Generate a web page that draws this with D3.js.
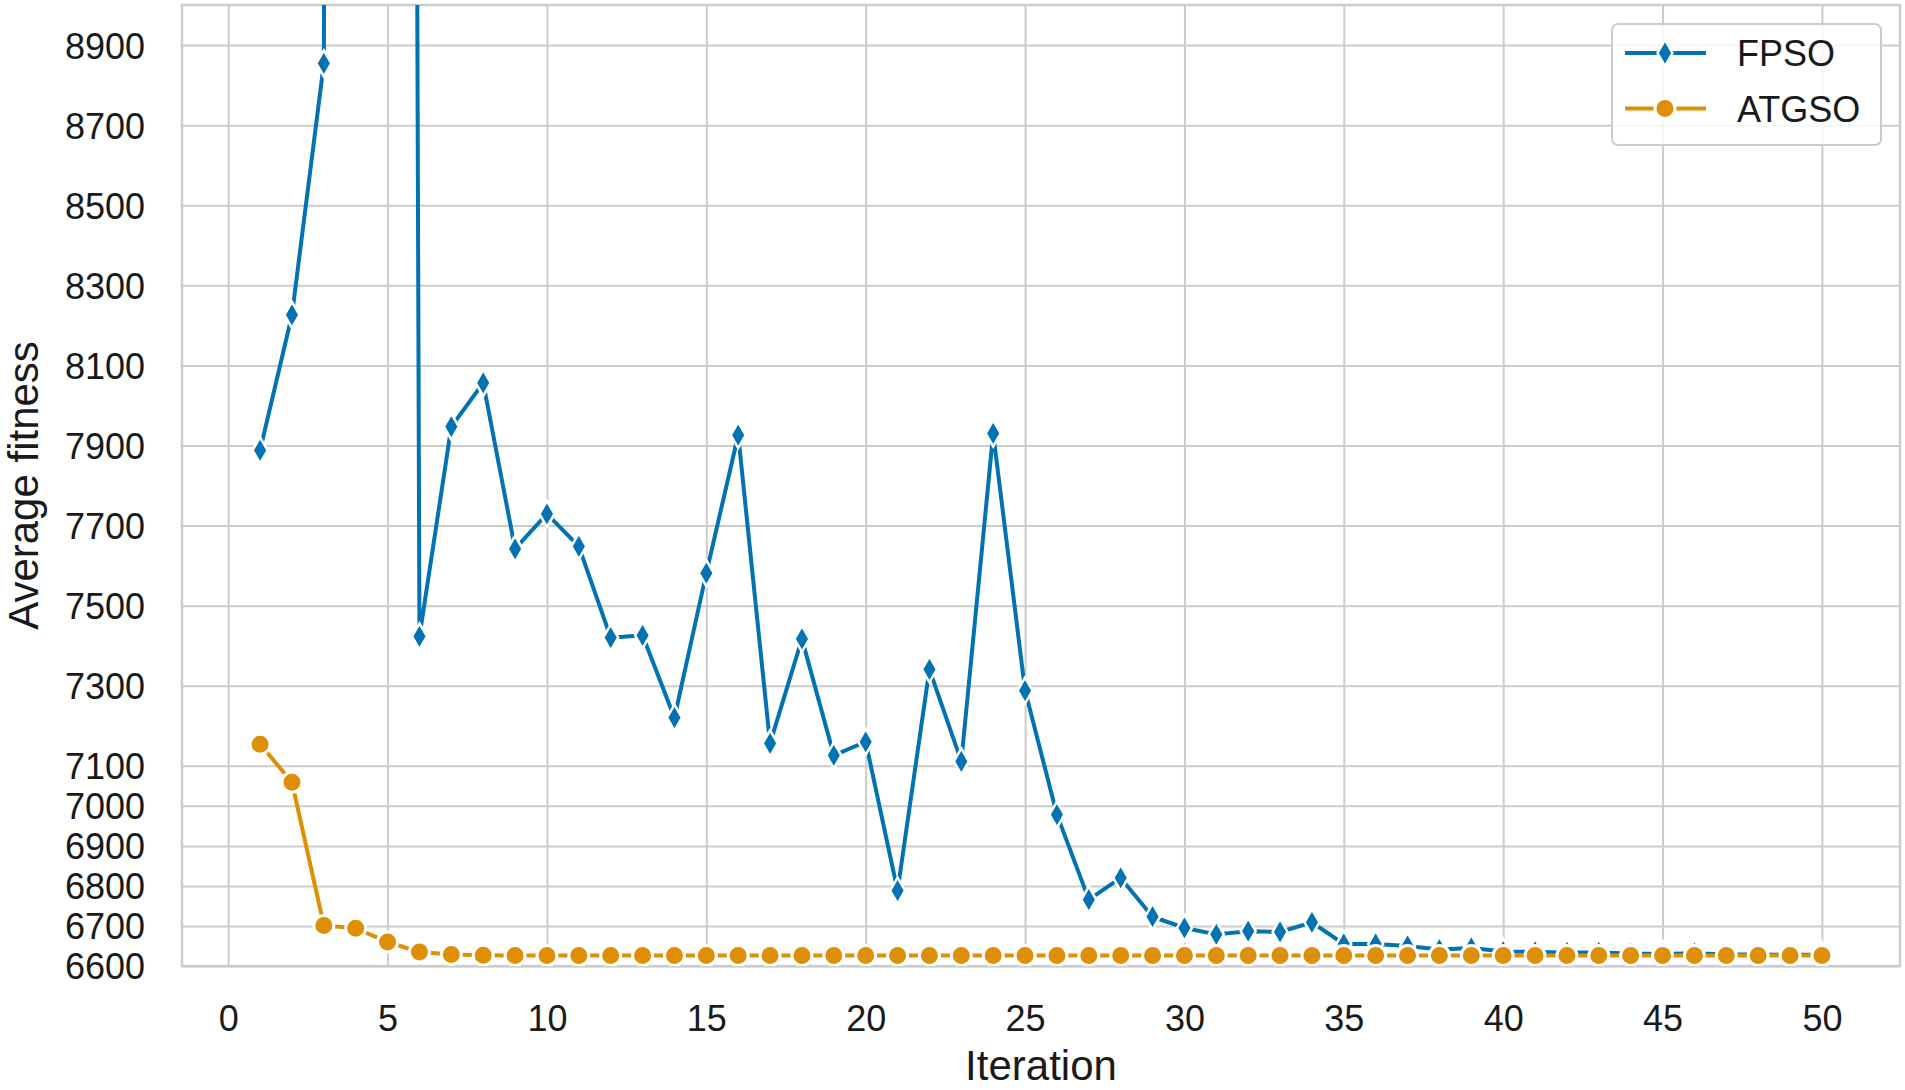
<!DOCTYPE html>
<html>
<head>
  <title>Average fitness</title>
  <script src="https://d3js.org/d3.v7.min.js"></script>
  <style>
    body { margin: 0; background: #fff; }
    text { font-family: "Liberation Sans", Arial, sans-serif; fill: #1a1a1a; }
    .grid line { stroke: #cccccc; stroke-width: 2; }
    .grid .domain { stroke: none; }
  </style>
</head>
<body>
  <svg id="chart" width="1905" height="1090"></svg>
  <script>
    // iteration numbers
    const iterations = [1, 2, 3, 4, 5, 6, 7, 8, 9, 10, 11, 12, 13, 14, 15, 16, 17, 18, 19, 20,
      21, 22, 23, 24, 25, 26, 27, 28, 29, 30, 31, 32, 33, 34, 35, 36, 37, 38, 39, 40,
      41, 42, 43, 44, 45, 46, 47, 48, 49, 50];

    // average fitness per iteration (4 and 5 are far above the visible range)
    const fpso = [7888, 8226, 8854, 32000, 30500, 7423, 7947, 8056, 7642, 7729,
      7648, 7420, 7426, 7220, 7581, 7926, 7156, 7417, 7126, 7160,
      6788, 7341, 7111, 7930, 7288, 6978, 6766, 6820, 6723, 6695,
      6679, 6687, 6685, 6709, 6655, 6655, 6650, 6641, 6645, 6636,
      6635, 6634, 6634, 6631, 6630, 6632, 6629, 6629, 6628, 6628];

    const atgso = [7154, 7059, 6701, 6694, 6660, 6635, 6629, 6627, 6626, 6626,
      6626, 6626, 6626, 6626, 6626, 6626, 6626, 6626, 6626, 6626,
      6626, 6626, 6626, 6626, 6626, 6626, 6626, 6626, 6626, 6626,
      6626, 6626, 6626, 6626, 6626, 6626, 6626, 6626, 6626, 6626,
      6626, 6626, 6626, 6626, 6626, 6626, 6626, 6626, 6626, 6626];

    const seriesNames = ["FPSO", "ATGSO"];
    const seriesColors = ["#0173b2", "#de8f05"];

    const xTicks = [0, 5, 10, 15, 20, 25, 30, 35, 40, 45, 50];
    const yTicks = [6600, 6700, 6800, 6900, 7000, 7100, 7300, 7500, 7700, 7900, 8100, 8300, 8500, 8700, 8900];

    const svg = d3.select("#chart");
    const margin = {top: 5, right: 5, bottom: 124, left: 182};
    const width = 1905 - margin.left - margin.right;
    const height = 1090 - margin.top - margin.bottom;

    const x = d3.scaleLinear().domain([-1.45, 52.45]).range([0, width]);
    const y = d3.scaleLinear().domain([6600, 9000]).range([height, 0]);

    const g = svg.append("g").attr("transform", `translate(${margin.left},${margin.top})`);

    g.append("defs").append("clipPath").attr("id", "plotclip")
      .append("rect").attr("width", width).attr("height", height);

    // gridlines
    g.append("g").attr("class", "grid")
      .attr("transform", `translate(0,${height})`)
      .call(d3.axisBottom(x).tickValues(xTicks).tickSize(-height).tickFormat(""));
    g.append("g").attr("class", "grid")
      .call(d3.axisLeft(y).tickValues(yTicks).tickSize(-width).tickFormat(""));

    // tick labels
    const xAxis = g.append("g").attr("transform", `translate(0,${height})`)
      .call(d3.axisBottom(x).tickValues(xTicks).tickSize(0).tickPadding(0).tickFormat(d3.format("d")));
    xAxis.select(".domain").remove();
    xAxis.selectAll("text").attr("dy", null).attr("y", 65)
      .style("font-size", "36px").style("font-family", "Liberation Sans, Arial, sans-serif")
      .attr("fill", "#1a1a1a");

    const yAxis = g.append("g")
      .call(d3.axisLeft(y).tickValues(yTicks).tickSize(0).tickPadding(0).tickFormat(d3.format("d")));
    yAxis.select(".domain").remove();
    yAxis.selectAll("text").attr("x", -37).attr("dy", "0.36em")
      .style("font-size", "36px").style("font-family", "Liberation Sans, Arial, sans-serif")
      .attr("fill", "#1a1a1a");

    // frame
    g.append("rect").attr("width", width).attr("height", height)
      .attr("fill", "none").attr("stroke", "#cccccc").attr("stroke-width", 2.5);

    // axis titles
    svg.append("text")
      .attr("x", margin.left + width / 2).attr("y", 1080)
      .attr("text-anchor", "middle").style("font-size", "42px")
      .text("Iteration");
    svg.append("text")
      .attr("transform", `translate(38,${margin.top + height / 2}) rotate(-90)`)
      .attr("text-anchor", "middle").style("font-size", "42px")
      .text("Average fitness");

    const diamond = "M0,-13L7.5,0L0,13L-7.5,0Z";
    const line = d3.line().x((d, i) => x(iterations[i])).y(d => y(d));

    const plot = g.append("g").attr("clip-path", "url(#plotclip)");
    [fpso, atgso].forEach((vals, k) => {
      plot.append("path").datum(vals)
        .attr("d", line)
        .attr("fill", "none")
        .attr("stroke", seriesColors[k])
        .attr("stroke-width", 4)
        .attr("stroke-linejoin", "round");

      const pts = plot.selectAll(".m" + k).data(vals).enter();
      if (k === 0) {
        pts.append("path").attr("class", "m0")
          .attr("d", diamond)
          .attr("transform", (d, i) => `translate(${x(iterations[i])},${y(d)})`)
          .attr("fill", seriesColors[k]).attr("stroke", "#fff").attr("stroke-width", 2.5);
      } else {
        pts.append("circle").attr("class", "m1")
          .attr("cx", (d, i) => x(iterations[i])).attr("cy", d => y(d))
          .attr("r", 10)
          .attr("fill", seriesColors[k]).attr("stroke", "#fff").attr("stroke-width", 3);
      }
    });

    // legend
    const legend = svg.append("g").attr("transform", "translate(1612,24)");
    legend.append("rect").attr("width", 269).attr("height", 121).attr("rx", 6)
      .attr("fill", "#fff").attr("fill-opacity", 0.8)
      .attr("stroke", "#cccccc").attr("stroke-width", 2);
    seriesNames.forEach((name, k) => {
      const ly = 29 + k * 55.5;
      legend.append("line").attr("x1", 13).attr("x2", 94).attr("y1", ly).attr("y2", ly)
        .attr("stroke", seriesColors[k]).attr("stroke-width", 4);
      if (k === 0) {
        legend.append("path").attr("d", diamond).attr("transform", `translate(53,${ly})`)
          .attr("fill", seriesColors[k]).attr("stroke", "#fff").attr("stroke-width", 2.5);
      } else {
        legend.append("circle").attr("cx", 53).attr("cy", ly).attr("r", 10)
          .attr("fill", seriesColors[k]).attr("stroke", "#fff").attr("stroke-width", 3);
      }
      legend.append("text").attr("x", 125).attr("y", ly + 13)
        .style("font-size", "36px").text(name);
    });
  </script>
</body>
</html>
